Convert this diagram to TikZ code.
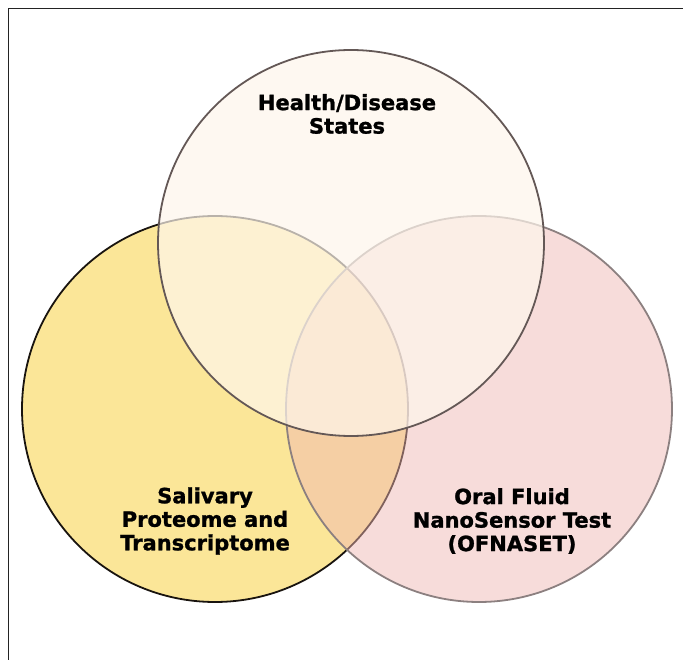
\documentclass[tikz,border=0pt]{standalone}
\usepackage{fontspec}
\setmainfont{DejaVu Sans}[BoldFeatures={FakeBold=1.2}]
\begin{document}
\begin{tikzpicture}[x=1pt,y=-1pt]
\definecolor{leftfill}{RGB}{251,230,152}
\definecolor{leftline}{RGB}{25,20,15}
\definecolor{rightfill}{RGB}{240,182,178}
\definecolor{rightline}{RGB}{140,128,128}
\definecolor{topfill}{RGB}{254,246,236}
\definecolor{topline}{RGB}{100,88,86}
\definecolor{frameline}{RGB}{35,35,35}
\tikzset{
  venn/.style={circle, minimum size=386pt, inner sep=0pt, line width=1.8pt},
  lbl/.style={align=center, font=\fontsize{21}{23.5}\selectfont\bfseries, text=black, inner sep=0pt}
}
\useasboundingbox (0,0) rectangle (683,660);
\fill[white] (0,0) rectangle (683,660);
\coordinate (fb) at (8.5,662);
\coordinate (fc) at (8.5,8.5);
\coordinate (fr) at (685,8.5);
\draw[frameline, line width=1.7pt] (fb) -- (fc) -- (fr);
\node[venn, fill=leftfill, draw=leftline] (sal) at (215,409) {};
\node[venn, fill=rightfill, fill opacity=0.48, draw=rightline, draw opacity=1] (ofn) at (479,409) {};
\node[venn, fill=topfill, fill opacity=0.7, draw=topline, draw opacity=1] (hds) at (351,243) {};
\node[lbl] (thds) at (347,114) {Health/Disease\\States};
\node[lbl] (tsal) at (205,521) {Salivary\\Proteome and\\Transcriptome};
\node[lbl] (tofn) at (512,521) {Oral Fluid\\NanoSensor Test\\(OFNASET)};
\end{tikzpicture}
\end{document}
